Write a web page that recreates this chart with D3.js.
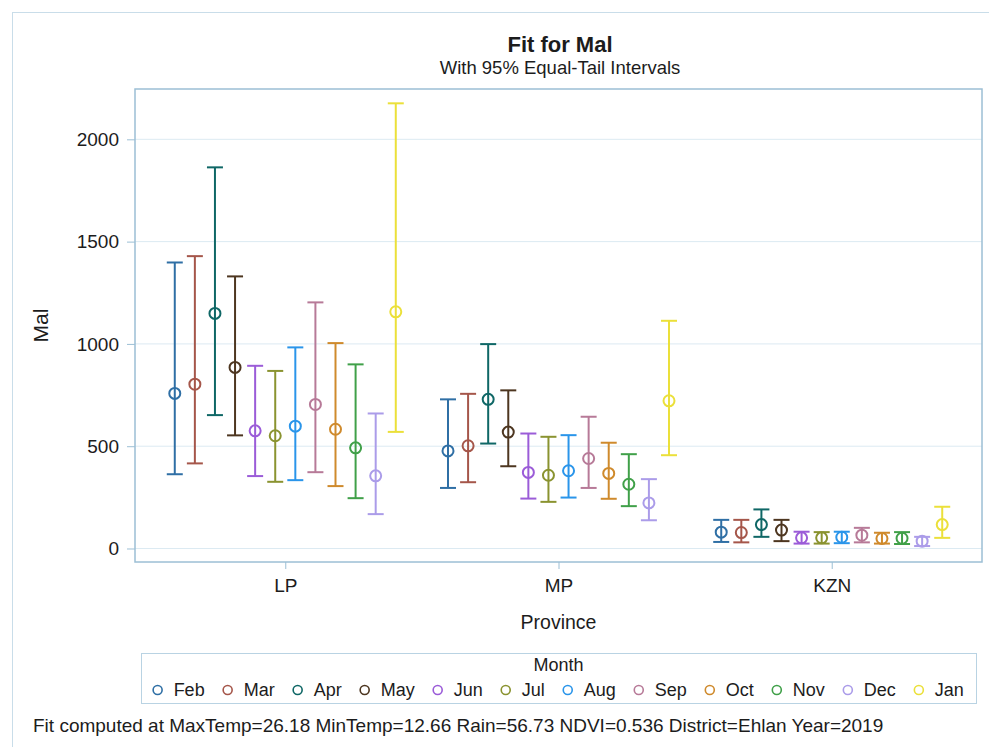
<!DOCTYPE html>
<html>
<head>
<meta charset="utf-8">
<script src="https://cdn.jsdelivr.net/npm/d3@7"></script>
<style>
  body { margin: 0; background: #fff; }
  text { font-family: "Liberation Sans", Arial, sans-serif; fill: #1c1c1c; }
</style>
</head>
<body>
<svg id="chart" width="989" height="747"></svg>
<script>
// Provinces on the x axis and the month groups within each province
const provinces = ["LP", "MP", "KZN"];
const months = ["Feb", "Mar", "Apr", "May", "Jun", "Jul", "Aug", "Sep", "Oct", "Nov", "Dec", "Jan"];
const monthColors = ["#2f6fa5", "#a5564a", "#0f6766", "#4d3620", "#9b5cd8", "#8a9330",
                     "#2a95ea", "#b77a98", "#cf8a2c", "#40a049", "#ab9ce9", "#ebe03a"];

// Fitted Mal with 95% equal-tail interval, one value per month
const fitLP  = [758, 803, 1149, 885, 575, 551, 598, 704, 583, 492, 355, 1157];
const lowLP  = [363, 416, 652, 553, 354, 326, 334, 373, 305, 246, 168, 570];
const highLP = [1398, 1429, 1863, 1330, 893, 868, 983, 1203, 1004, 900, 660, 2176];

const fitMP  = [477, 502, 729, 569, 372, 358, 380, 440, 367, 314, 223, 722];
const lowMP  = [296, 324, 513, 402, 244, 228, 249, 296, 243, 207, 138, 456];
const highMP = [729, 756, 999, 773, 562, 546, 554, 644, 517, 461, 339, 1113];

const fitKZN  = [80, 78, 117, 90, 52, 52, 55, 65, 49, 50, 36, 117];
const lowKZN  = [32, 30, 57, 36, 24, 24, 26, 30, 24, 22, 12, 52];
const highKZN = [140, 140, 191, 140, 82, 80, 82, 101, 77, 80, 57, 204];

const yTicks = [0, 500, 1000, 1500, 2000];

const titleText = "Fit for Mal";
const subtitleText = "With 95% Equal-Tail Intervals";
const xTitle = "Province";
const yTitle = "Mal";
const legendTitle = "Month";
const footnote = "Fit computed at MaxTemp=26.18 MinTemp=12.66 Rain=56.73 NDVI=0.536 District=Ehlan Year=2019";

// Long-format rows for drawing
const series = { LP: [fitLP, lowLP, highLP], MP: [fitMP, lowMP, highMP], KZN: [fitKZN, lowKZN, highKZN] };
const rows = [];
provinces.forEach(p => {
  const [fit, low, high] = series[p];
  months.forEach((m, i) => rows.push({ province: p, month: m, fit: fit[i], low: low[i], high: high[i] }));
});

const svg = d3.select("#chart");
const frameColor = "#9cbfd5";
const gridColor = "#dceaf2";
const fontFamily = "Liberation Sans, Arial, sans-serif";

const plot = { left: 135, top: 89, right: 982, bottom: 562 };

// Outer graph border
svg.append("rect")
  .attr("x", 12.5).attr("y", 12.5).attr("width", 1000).attr("height", 1000)
  .attr("fill", "none").attr("stroke", "#c9dde9").attr("stroke-width", 1);

const x = d3.scalePoint().domain(provinces).range([plot.left, plot.right]).padding(0.55);
const xm = d3.scalePoint().domain(months).range([-110.5, 110.5]);
const y = d3.scaleLinear().domain([-66, 2246]).range([plot.bottom, plot.top]);
const color = d3.scaleOrdinal().domain(months).range(monthColors);

// Horizontal grid
svg.append("g").selectAll("line").data(yTicks).join("line")
  .attr("x1", plot.left).attr("x2", plot.right)
  .attr("y1", d => y(d)).attr("y2", d => y(d))
  .attr("stroke", gridColor).attr("stroke-width", 1);

// Y axis
const yAxis = svg.append("g").attr("transform", `translate(${plot.left},0)`)
  .call(d3.axisLeft(y).tickValues(yTicks).tickSize(8).tickPadding(8).tickFormat(d3.format("d")));
yAxis.select(".domain").remove();
yAxis.selectAll(".tick line").attr("stroke", frameColor);
yAxis.selectAll(".tick text").attr("font-size", 19).attr("fill", "#1c1c1c")
  .attr("font-family", fontFamily);

// X axis
const xAxis = svg.append("g").attr("transform", `translate(0,${plot.bottom})`)
  .call(d3.axisBottom(x).tickSize(7).tickPadding(10));
xAxis.select(".domain").remove();
xAxis.selectAll(".tick line").attr("stroke", frameColor);
xAxis.selectAll(".tick text").attr("font-size", 19).attr("fill", "#1c1c1c")
  .attr("font-family", fontFamily);

// Plot frame
svg.append("rect")
  .attr("x", plot.left).attr("y", plot.top)
  .attr("width", plot.right - plot.left).attr("height", plot.bottom - plot.top)
  .attr("fill", "none").attr("stroke", frameColor).attr("stroke-width", 1.5);

// Interval bars with caps and fitted-value circles
const capHalf = 8;
const bars = svg.append("g").selectAll("g").data(rows).join("g")
  .attr("transform", d => `translate(${x(d.province) + xm(d.month)},0)`)
  .attr("stroke", d => color(d.month)).attr("stroke-width", 2).attr("fill", "none");
bars.append("line").attr("x1", 0).attr("x2", 0).attr("y1", d => y(d.low)).attr("y2", d => y(d.high));
bars.append("line").attr("x1", -capHalf).attr("x2", capHalf).attr("y1", d => y(d.high)).attr("y2", d => y(d.high));
bars.append("line").attr("x1", -capHalf).attr("x2", capHalf).attr("y1", d => y(d.low)).attr("y2", d => y(d.low));
bars.append("circle").attr("cx", 0).attr("cy", d => y(d.fit)).attr("r", 5.5).attr("fill", "none");

// Titles
svg.append("text").attr("x", 560).attr("y", 52).attr("text-anchor", "middle")
  .attr("font-size", 22).attr("font-weight", "bold").text(titleText);
svg.append("text").attr("x", 560).attr("y", 74).attr("text-anchor", "middle")
  .attr("font-size", 18.5).text(subtitleText);

svg.append("text").attr("x", (plot.left + plot.right) / 2).attr("y", 629).attr("text-anchor", "middle")
  .attr("font-size", 19.5).text(xTitle);
svg.append("text").attr("transform", `translate(48,${(plot.top + plot.bottom) / 2}) rotate(-90)`)
  .attr("text-anchor", "middle").attr("font-size", 21).text(yTitle);

// Legend
const legend = { left: 141, top: 653, right: 976, bottom: 703 };
svg.append("rect")
  .attr("x", legend.left + 0.5).attr("y", legend.top + 0.5)
  .attr("width", legend.right - legend.left).attr("height", legend.bottom - legend.top)
  .attr("fill", "none").attr("stroke", "#b9d3e3").attr("stroke-width", 1);
svg.append("text").attr("x", (legend.left + legend.right) / 2).attr("y", 671)
  .attr("text-anchor", "middle").attr("font-size", 18).text(legendTitle);

const items = svg.append("g").selectAll("g").data(months).join("g");
items.append("circle").attr("r", 4.5).attr("cy", 690)
  .attr("fill", "none").attr("stroke", d => color(d)).attr("stroke-width", 1.6);
items.append("text").attr("y", 696).attr("font-size", 18).text(d => d);

// Lay legend entries out from their text widths, centred in the legend box
const markerGap = 16, itemGap = 23;
const widths = [];
items.select("text").each(function () { widths.push(this.getComputedTextLength()); });
const total = d3.sum(widths) + months.length * markerGap + (months.length - 1) * itemGap + 4.5;
let cursor = (legend.left + legend.right) / 2 - total / 2 + 4.5;
items.each(function (d, i) {
  const g = d3.select(this);
  g.select("circle").attr("cx", cursor);
  g.select("text").attr("x", cursor + markerGap);
  cursor += markerGap + widths[i] + itemGap;
});

// Footnote
svg.append("text").attr("x", 33).attr("y", 732).attr("font-size", 19).text(footnote);
</script>
</body>
</html>
